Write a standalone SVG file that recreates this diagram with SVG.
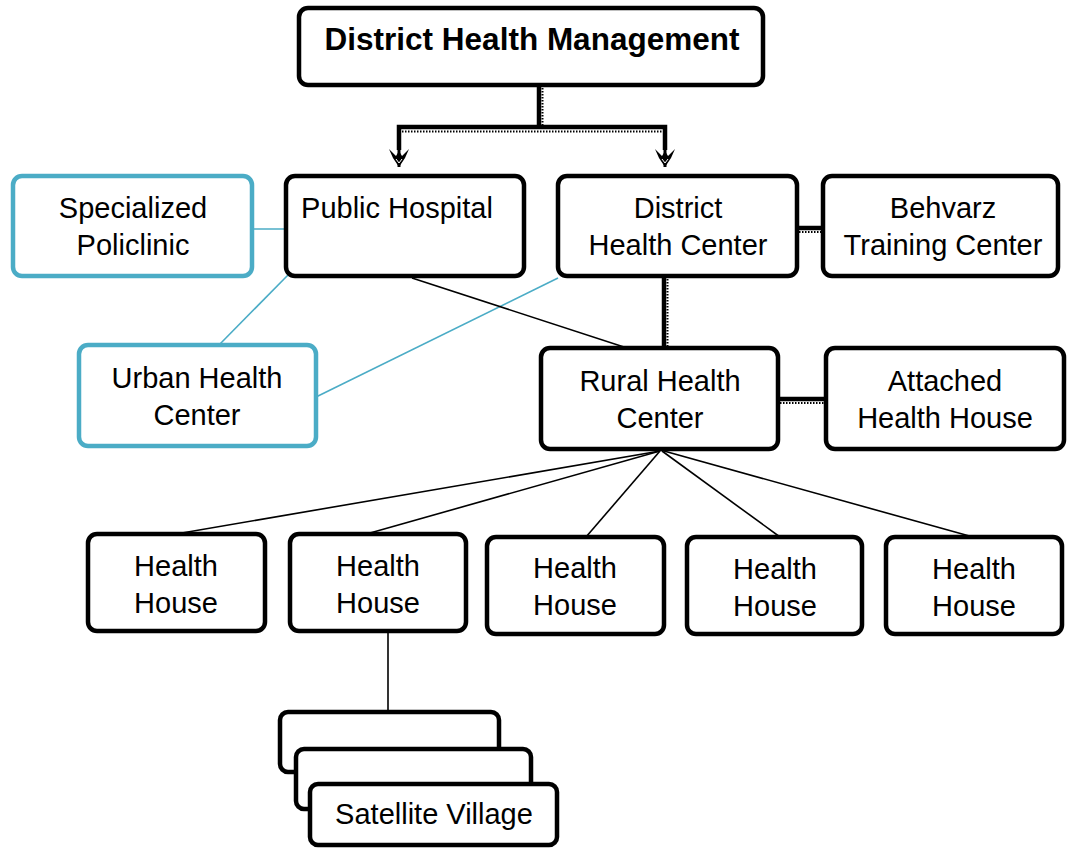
<svg xmlns="http://www.w3.org/2000/svg" width="1068" height="848" viewBox="0 0 1068 848">
<defs>
<style>
.box{fill:#fff;stroke:#000;stroke-width:4.5}
.tbox{fill:#fff;stroke:#4BACC6;stroke-width:4.5}
.t{font-family:"Liberation Sans",Arial,sans-serif;font-size:29px;fill:#000;text-anchor:middle}
.tb{font-family:"Liberation Sans",Arial,sans-serif;font-size:31.5px;font-weight:bold;fill:#000;text-anchor:middle}
.thin{stroke:#000;stroke-width:1.6;fill:none}
.teal{stroke:#4BACC6;stroke-width:1.6;fill:none}
.thick{stroke:#000;stroke-width:4.5;fill:none}
.dot{stroke:#000;stroke-width:2;stroke-dasharray:1.5 1.5;fill:none}
</style>
<marker id="arr" viewBox="0 0 22 24" refX="20" refY="12" markerWidth="22" markerHeight="24" markerUnits="userSpaceOnUse" orient="auto">
<path d="M2,2 L9,9 L4,12 L9,15 L2,22 L11,18 L20,12 L11,6 Z" fill="#000"/>
<path d="M12,9 L16,12 L12,15" fill="none" stroke="#fff" stroke-width="1"/>
</marker>
</defs>
<g id="connectors">
<line class="thick" x1="539" y1="85" x2="539" y2="127"/>
<line class="dot" x1="542.5" y1="85" x2="542.5" y2="125"/>
<polyline class="thick" points="399,150 399,127 665,127 665,150"/>
<line class="dot" x1="402" y1="131.5" x2="662" y2="131.5"/>
<line x1="399" y1="145" x2="399" y2="167" stroke="#000" stroke-width="3" marker-end="url(#arr)"/>
<line x1="665" y1="145" x2="665" y2="167" stroke="#000" stroke-width="3" marker-end="url(#arr)"/>
<line class="teal" x1="252" y1="229" x2="285" y2="229"/>
<line class="teal" x1="288" y1="275" x2="219" y2="345"/>
<line class="teal" x1="558" y1="278" x2="316" y2="397"/>
<line class="thin" x1="412" y1="278" x2="627" y2="348"/>
<line class="thick" x1="664" y1="277" x2="664" y2="348"/>
<line class="dot" x1="667.5" y1="279" x2="667.5" y2="346"/>
<line class="thick" x1="797" y1="228" x2="823" y2="228"/>
<line class="dot" x1="799" y1="232" x2="821" y2="232"/>
<line class="thick" x1="778" y1="399" x2="826" y2="399"/>
<line class="dot" x1="780" y1="403" x2="824" y2="403"/>
<line class="thin" x1="660" y1="451" x2="176" y2="534"/>
<line class="thin" x1="660" y1="451" x2="370" y2="533"/>
<line class="thin" x1="660" y1="451" x2="586" y2="537"/>
<line class="thin" x1="662" y1="451" x2="780" y2="537"/>
<line class="thin" x1="664" y1="451" x2="973" y2="537"/>
<line class="thin" x1="388" y1="631" x2="388" y2="711"/>
</g>
<g id="district-health-management">
<rect class="box" x="299" y="8" width="464" height="77" rx="9"/>
<text class="tb" x="532" y="50">District Health Management</text>
</g>
<g id="specialized-policlinic">
<rect class="tbox" x="13" y="176" width="239" height="100" rx="9"/>
<text class="t" x="133" y="218">Specialized</text>
<text class="t" x="133" y="255">Policlinic</text>
</g>
<g id="public-hospital">
<rect class="box" x="286" y="176" width="238" height="100" rx="9"/>
<text class="t" x="397" y="218">Public Hospital</text>
</g>
<g id="district-health-center">
<rect class="box" x="558" y="176" width="239" height="100" rx="9"/>
<text class="t" x="678" y="218">District</text>
<text class="t" x="678" y="255">Health Center</text>
</g>
<g id="behvarz-training-center">
<rect class="box" x="823" y="176" width="235" height="100" rx="9"/>
<text class="t" x="943" y="218">Behvarz</text>
<text class="t" x="943" y="255">Training Center</text>
</g>
<g id="urban-health-center">
<rect class="tbox" x="79" y="345" width="237" height="101" rx="9"/>
<text class="t" x="197" y="388">Urban Health</text>
<text class="t" x="197" y="425">Center</text>
</g>
<g id="rural-health-center">
<rect class="box" x="541" y="348" width="237" height="101" rx="9"/>
<text class="t" x="660" y="391">Rural Health</text>
<text class="t" x="660" y="428">Center</text>
</g>
<g id="attached-health-house">
<rect class="box" x="826" y="348" width="238" height="101" rx="9"/>
<text class="t" x="945" y="391">Attached</text>
<text class="t" x="945" y="428">Health House</text>
</g>
<g id="health-house-1">
<rect class="box" x="88" y="534" width="177" height="97" rx="9"/>
<text class="t" x="176" y="576">Health</text>
<text class="t" x="176" y="613">House</text>
</g>
<g id="health-house-2">
<rect class="box" x="290" y="534" width="176" height="97" rx="9"/>
<text class="t" x="378" y="576">Health</text>
<text class="t" x="378" y="613">House</text>
</g>
<g id="health-house-3">
<rect class="box" x="487" y="537" width="177" height="97" rx="9"/>
<text class="t" x="575" y="578">Health</text>
<text class="t" x="575" y="615">House</text>
</g>
<g id="health-house-4">
<rect class="box" x="687" y="537" width="175" height="97" rx="9"/>
<text class="t" x="775" y="579">Health</text>
<text class="t" x="775" y="616">House</text>
</g>
<g id="health-house-5">
<rect class="box" x="886" y="537" width="176" height="97" rx="9"/>
<text class="t" x="974" y="579">Health</text>
<text class="t" x="974" y="616">House</text>
</g>
<g id="satellite-village">
<rect class="box" x="280" y="712" width="219" height="60" rx="8"/>
<rect class="box" x="296" y="749" width="235" height="60" rx="8"/>
<rect class="box" x="310" y="784" width="247" height="61" rx="8"/>
<text class="t" x="434" y="824">Satellite Village</text>
</g>
</svg>
